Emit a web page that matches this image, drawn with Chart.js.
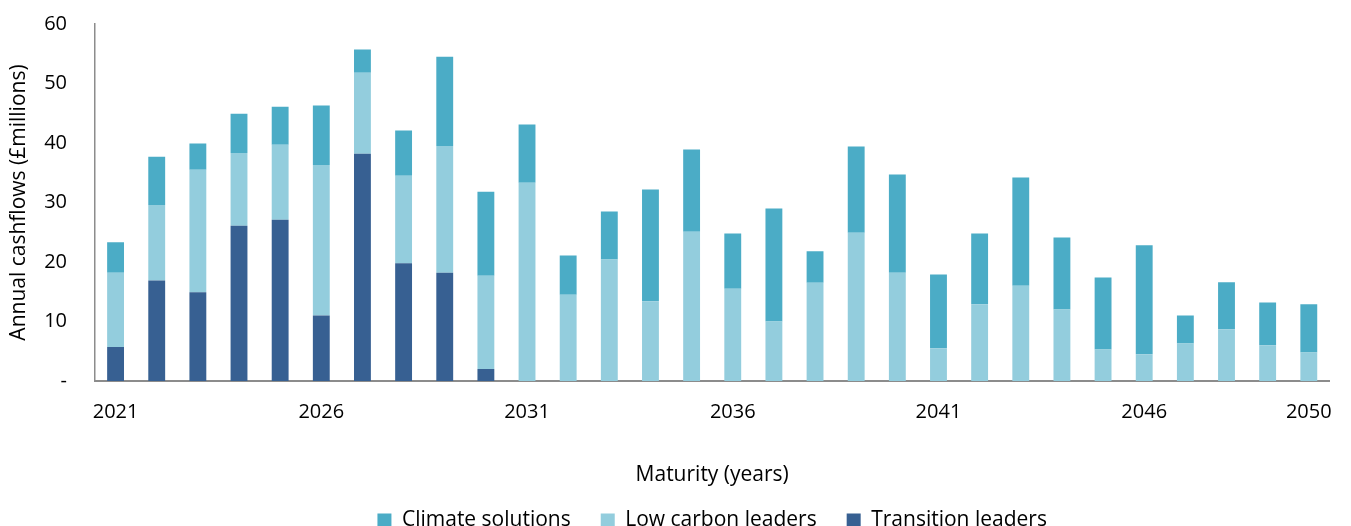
<!DOCTYPE html>
<html>
<head>
<meta charset="utf-8">
<script src="https://cdn.jsdelivr.net/npm/chart.js@4/dist/chart.umd.min.js"></script>
<style>
    html, body { margin: 0; padding: 0; background: #fff; }
    .chart { width: 1351px; height: 526px; }
</style>
</head>
<body>
<div class="chart"><canvas id="cashflows"></canvas></div>
<script>
// data
const years = ['2021','2022','2023','2024','2025','2026','2027','2028','2029','2030',
               '2031','2032','2033','2034','2035','2036','2037','2038','2039','2040',
               '2041','2042','2043','2044','2045','2046','2047','2048','2049','2050']

// stacked values (segment heights, £m)
const transition_leaders = [5.7, 16.9, 14.9, 26.1, 27.1, 11.0, 38.2, 19.8, 18.2, 2.0,
                            0, 0, 0, 0, 0, 0, 0, 0, 0, 0,
                            0, 0, 0, 0, 0, 0, 0, 0, 0, 0]
const low_carbon_leaders = [12.5, 12.7, 20.6, 12.2, 12.6, 25.3, 13.6, 14.7, 21.3, 15.7,
                            33.3, 14.5, 20.4, 13.4, 25.1, 15.5, 10.0, 16.5, 24.9, 18.2,
                            5.5, 12.9, 16.0, 12.0, 5.3, 4.5, 6.3, 8.7, 6.0, 4.8]
const climate_solutions  = [5.1, 8.1, 4.4, 6.6, 6.4, 10.0, 3.9, 7.6, 15.0, 14.1,
                            9.8, 6.6, 8.1, 18.8, 13.8, 9.3, 19.0, 5.3, 14.5, 16.5,
                            12.4, 11.9, 18.2, 12.1, 12.1, 18.3, 4.7, 7.9, 7.2, 8.1]

const y_ticks = [0, 10, 20, 30, 40, 50, 60]

Chart.defaults.font.family = '"Open Sans", Lato, "Liberation Sans", sans-serif'
Chart.defaults.font.size = 21
Chart.defaults.color = '#000'

// centre the legend under the plot area, not the whole canvas
const legend_under_plot = {
    id: 'legend_under_plot',
    afterLayout(chart) {
        chart.legend.left = chart.chartArea.left
        chart.legend.right = chart.chartArea.right
    }
}

const ctx = document.getElementById('cashflows')

const data_chart = {
    labels: years,
    datasets: [
        {
            label: 'Transition leaders',
            data: transition_leaders,
            backgroundColor: '#376092'
        },
        {
            label: 'Low carbon leaders',
            data: low_carbon_leaders,
            backgroundColor: '#93CDDD'
        },
        {
            label: 'Climate solutions',
            data: climate_solutions,
            backgroundColor: '#4BACC6'
        }
    ]
}

new Chart(ctx, {
    type: 'bar',
    data: data_chart,
    plugins: [legend_under_plot],
    options: {
        responsive: true,
        maintainAspectRatio: false,
        animation: false,
        datasets: {
            bar: {
                categoryPercentage: 1,
                barPercentage: 0.41
            }
        },
        layout: {
            padding: { top: 24, right: 20, bottom: -15, left: 0 }
        },
        plugins: {
            legend: {
                position: 'bottom',
                reverse: true,
                labels: {
                    boxWidth: 14,
                    boxHeight: 14,
                    padding: 30,
                    font: { size: 21 }
                }
            },
            tooltip: { enabled: false }
        },
        scales: {
            x: {
                stacked: true,
                grid: { display: false, drawTicks: false },
                border: { color: '#8c8c8c', width: 2 },
                ticks: {
                    autoSkip: false,
                    maxRotation: 0,
                    padding: 19,
                    font: { size: 20 },
                    callback: function(val, i) {
                        if (i % 5 === 0 || i === years.length - 1) {
                            return years[i]
                        }
                        return ''
                    }
                },
                title: {
                    display: true,
                    text: 'Maturity (years)',
                    padding: { top: 40, bottom: -8 }
                },
                afterFit: function(scale) {
                    scale.height = 99
                }
            },
            y: {
                stacked: true,
                min: y_ticks[0],
                max: y_ticks[y_ticks.length - 1],
                grid: { display: false, drawTicks: false },
                border: { color: '#8c8c8c', width: 1.5 },
                ticks: {
                    stepSize: 10,
                    padding: 28,
                    font: { size: 20 },
                    callback: function(val) {
                        return val === 0 ? '-' : val
                    }
                },
                title: {
                    display: true,
                    text: 'Annual cashflows (£millions)',
                    padding: { top: 6, bottom: 0 }
                },
                afterFit: function(scale) {
                    scale.width = 95
                    scale.paddingTop = 0
                    scale.paddingBottom = 0
                }
            }
        }
    }
})
</script>
</body>
</html>
